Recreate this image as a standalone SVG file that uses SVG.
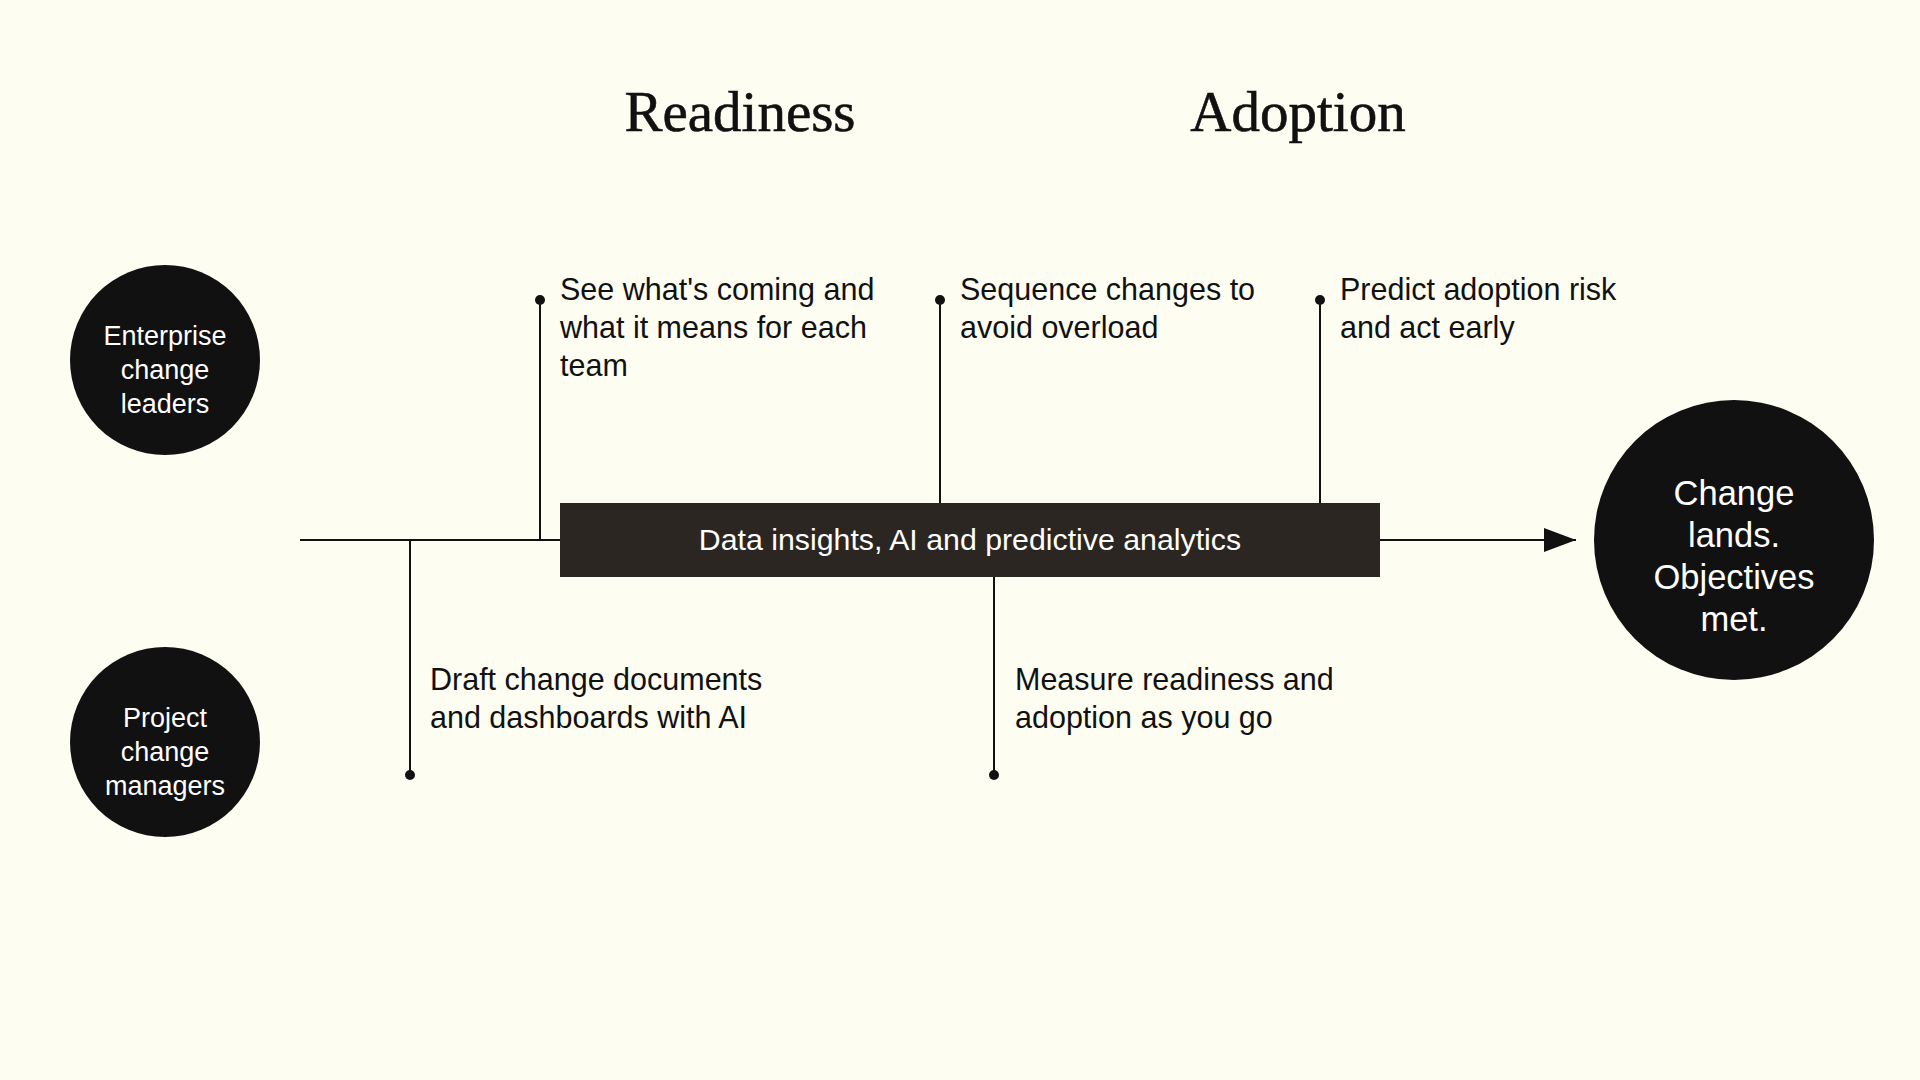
<svg xmlns="http://www.w3.org/2000/svg" width="1920" height="1080" viewBox="0 0 1920 1080">
<defs>
<style>
.bg{fill:#fdfdf1}
.node{fill:#111111}
.bar{fill:#2b2622}
.ln{stroke:#111111;stroke-width:2;fill:none}
.dot{fill:#111111}
.title{font-family:"Liberation Serif",Georgia,serif;font-size:57px;fill:#111111;text-anchor:middle;stroke:#111111;stroke-width:0.6}
.lbl{font-family:"Liberation Sans",Arial,Helvetica,sans-serif;font-size:30.5px;fill:#111111}
.ctext{font-family:"Liberation Sans",Arial,Helvetica,sans-serif;font-size:27px;fill:#ffffff;text-anchor:middle}
.btext{font-family:"Liberation Sans",Arial,Helvetica,sans-serif;font-size:34.5px;fill:#ffffff;text-anchor:middle}
.bartext{font-family:"Liberation Sans",Arial,Helvetica,sans-serif;font-size:30.3px;fill:#ffffff;text-anchor:middle}
</style>
<marker id="arrow" viewBox="0 0 32 24" refX="32" refY="12" markerWidth="32" markerHeight="24" markerUnits="userSpaceOnUse" orient="auto">
<path d="M0,0 L32,12 L0,24 Z" fill="#111111"/>
</marker>
</defs>
<rect class="bg" x="0" y="0" width="1920" height="1080"/>

<g id="titles">
<text class="title" x="740" y="131">Readiness</text>
<text class="title" x="1298" y="131">Adoption</text>
</g>

<g id="connectors">
<line class="ln" x1="300" y1="540" x2="1576" y2="540" marker-end="url(#arrow)"/>
<line class="ln" x1="540" y1="540" x2="540" y2="300"/>
<circle class="dot" cx="540" cy="300" r="5"/>
<line class="ln" x1="940" y1="504" x2="940" y2="300"/>
<circle class="dot" cx="940" cy="300" r="5"/>
<line class="ln" x1="1320" y1="504" x2="1320" y2="300"/>
<circle class="dot" cx="1320" cy="300" r="5"/>
<line class="ln" x1="410" y1="540" x2="410" y2="775"/>
<circle class="dot" cx="410" cy="775" r="5"/>
<line class="ln" x1="994" y1="576" x2="994" y2="775"/>
<circle class="dot" cx="994" cy="775" r="5"/>
</g>

<g id="node-enterprise">
<circle class="node" cx="165" cy="360" r="95"/>
<text class="ctext" x="165" y="345">Enterprise</text>
<text class="ctext" x="165" y="379">change</text>
<text class="ctext" x="165" y="413">leaders</text>
</g>

<g id="node-project">
<circle class="node" cx="165" cy="742" r="95"/>
<text class="ctext" x="165" y="727">Project</text>
<text class="ctext" x="165" y="761">change</text>
<text class="ctext" x="165" y="795">managers</text>
</g>

<g id="node-platform">
<rect class="bar" x="560" y="503" width="820" height="74"/>
<text class="bartext" x="970" y="550">Data insights, AI and predictive analytics</text>
</g>

<g id="node-outcome">
<circle class="node" cx="1734" cy="540" r="140"/>
<text class="btext" x="1734" y="505">Change</text>
<text class="btext" x="1734" y="547">lands.</text>
<text class="btext" x="1734" y="589">Objectives</text>
<text class="btext" x="1734" y="631">met.</text>
</g>

<g id="label-see">
<text class="lbl" x="560" y="300">See what's coming and</text>
<text class="lbl" x="560" y="338">what it means for each</text>
<text class="lbl" x="560" y="376">team</text>
</g>

<g id="label-sequence">
<text class="lbl" x="960" y="300">Sequence changes to</text>
<text class="lbl" x="960" y="338">avoid overload</text>
</g>

<g id="label-predict">
<text class="lbl" x="1340" y="300">Predict adoption risk</text>
<text class="lbl" x="1340" y="338">and act early</text>
</g>

<g id="label-draft">
<text class="lbl" x="430" y="690">Draft change documents</text>
<text class="lbl" x="430" y="728">and dashboards with AI</text>
</g>

<g id="label-measure">
<text class="lbl" x="1015" y="690">Measure readiness and</text>
<text class="lbl" x="1015" y="728">adoption as you go</text>
</g>
</svg>
